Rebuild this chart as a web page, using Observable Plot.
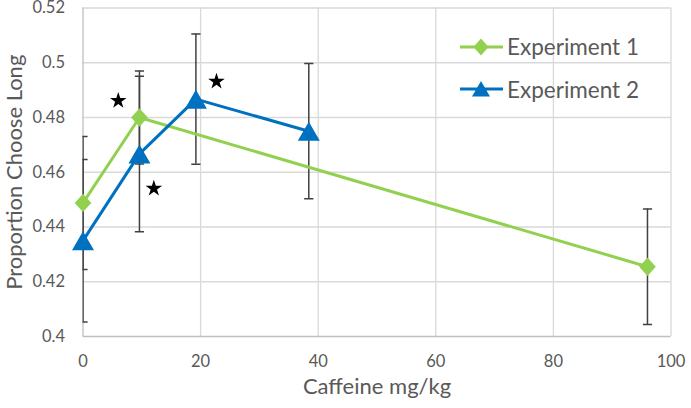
<!DOCTYPE html>
<html>
<head>
<meta charset="utf-8">
<script src="https://cdn.jsdelivr.net/npm/d3@7"></script>
<script src="https://cdn.jsdelivr.net/npm/@observablehq/plot@0.6"></script>
<style>
  body { margin: 0; background: #fff; }
  #chart { position: relative; width: 691px; height: 408px; font-family: Lato, "Noto Sans", sans-serif; color: #595959; }
  .legend-item { position: absolute; display: flex; align-items: center; height: 26px; font-size: 22.5px; white-space: nowrap; }
  .legend-item svg { margin-right: 3px; }
</style>
</head>
<body>
<div id="chart"></div>
<script>
// Caffeine dose (mg/kg), mean proportion of long choices, and error half-widths
const doses1 = [0, 9.6, 96];
const mean1 = [0.4488, 0.48, 0.4255];
const err1 = [0.0243, 0.017, 0.0211];

const doses2 = [0, 9.6, 19.2, 38.4];
const mean2 = [0.435, 0.4667, 0.4867, 0.475];
const err2 = [0.0297, 0.0284, 0.0238, 0.0247];

// Significance markers
const starDoses = [6.0, 12.05, 22.7];
const starValues = [0.4861, 0.4541, 0.4932];

const xTicks = [0, 20, 40, 60, 80, 100];
const yTicks = [0.4, 0.42, 0.44, 0.46, 0.48, 0.5, 0.52];

const seriesNames = ["Experiment 1", "Experiment 2"];
const green = "#92d050";
const blue = "#0070c0";
const barColor = "#404040";

const exp1 = doses1.map((x, i) => ({x, y: mean1[i], e: err1[i]}));
const exp2 = doses2.map((x, i) => ({x, y: mean2[i], e: err2[i]}));
const stars = starDoses.map((x, i) => ({x, y: starValues[i]}));

// Marker shapes centred on their bounding box
const diamond = {
  draw(ctx, size) {
    const r = Math.sqrt(size / Math.PI);
    const w = 1.04 * r, h = 1.15 * r;
    ctx.moveTo(0, -h); ctx.lineTo(w, 0); ctx.lineTo(0, h); ctx.lineTo(-w, 0); ctx.closePath();
  }
};
const triangle = {
  draw(ctx, size) {
    const r = Math.sqrt(size / Math.PI);
    const w = 1.375 * r, h = 1.19 * r;
    ctx.moveTo(0, -h); ctx.lineTo(w, h); ctx.lineTo(-w, h); ctx.closePath();
  }
};
const cap = {
  draw(ctx, size) {
    const r = Math.sqrt(size / Math.PI);
    ctx.moveTo(-r, 0); ctx.lineTo(r, 0);
  }
};

function errorBars(data) {
  return [
    Plot.ruleX(data, {x: "x", y1: d => d.y - d.e, y2: d => d.y + d.e, stroke: barColor, strokeWidth: 1.5, clip: true}),
    Plot.dot(data, {x: "x", y: d => d.y + d.e, symbol: cap, r: 4.6, stroke: barColor, strokeWidth: 1.5, fill: "none", clip: true}),
    Plot.dot(data, {x: "x", y: d => d.y - d.e, symbol: cap, r: 4.6, stroke: barColor, strokeWidth: 1.5, fill: "none", clip: true})
  ];
}

const plot = Plot.plot({
  width: 691,
  height: 408,
  marginLeft: 82.5,
  marginRight: 20.5,
  marginTop: 7.5,
  marginBottom: 72,
  style: {fontFamily: "Lato, 'Noto Sans', sans-serif", fontSize: "16px", color: "#595959", background: "white", overflow: "visible"},
  x: {domain: [0, 100]},
  y: {domain: [0.4, 0.52]},
  marks: [
    Plot.gridX(xTicks.slice(1), {stroke: "#d9d9d9", strokeOpacity: 1, strokeWidth: 1.3}),
    Plot.gridY(yTicks.slice(1), {stroke: "#d9d9d9", strokeOpacity: 1, strokeWidth: 1.3}),
    Plot.ruleX([0], {stroke: "#bfbfbf", strokeWidth: 1.3}),
    Plot.ruleY([0.4], {stroke: "#bfbfbf", strokeWidth: 1.3}),
    Plot.axisX(xTicks, {tickSize: 0, tickPadding: 19, fontSize: 16.5, label: null}),
    Plot.axisY(yTicks, {tickSize: 0, tickPadding: 18, fontSize: 16.5, tickFormat: d => String(d), label: null}),
    Plot.text(["Caffeine mg/kg"], {frameAnchor: "bottom", dy: 57, text: d => d, fontSize: 22, fill: "#595959"}),
    Plot.text(["Proportion Choose Long"], {frameAnchor: "left", dx: -68, rotate: -90, textAnchor: "middle", text: d => d, fontSize: 22, fill: "#595959"}),
    ...errorBars(exp1),
    ...errorBars(exp2),
    Plot.line(exp1, {x: "x", y: "y", stroke: green, strokeWidth: 3}),
    Plot.line(exp2, {x: "x", y: "y", stroke: blue, strokeWidth: 3}),
    Plot.dot(exp1, {x: "x", y: "y", symbol: diamond, r: 8, fill: green, stroke: "none"}),
    Plot.dot(exp2, {x: "x", y: "y", symbol: triangle, r: 8, fill: blue, stroke: "none"}),
    Plot.dot(stars, {x: "x", y: "y", symbol: "star", r: 5.2, fill: "black", stroke: "none"})
  ]
});

const chart = document.getElementById("chart");
chart.appendChild(plot);

// Legend inside the plot area
const legendShapes = [
  {color: green, path: "M22,4.5 L29.5,13 L22,21.5 L14.5,13 Z"},
  {color: blue, path: "M22,5 L31,20.5 L13,20.5 Z"}
];
const legendTops = [33.7, 76.3];
seriesNames.forEach((name, i) => {
  const item = document.createElement("div");
  item.className = "legend-item";
  item.style.left = "459px";
  item.style.top = legendTops[i] + "px";
  item.innerHTML =
    `<svg width="45" height="26"><line x1="1" x2="44" y1="13" y2="13" stroke="${legendShapes[i].color}" stroke-width="3"/>` +
    `<path d="${legendShapes[i].path}" fill="${legendShapes[i].color}"/></svg><span>${name}</span>`;
  chart.appendChild(item);
});
</script>
</body>
</html>
